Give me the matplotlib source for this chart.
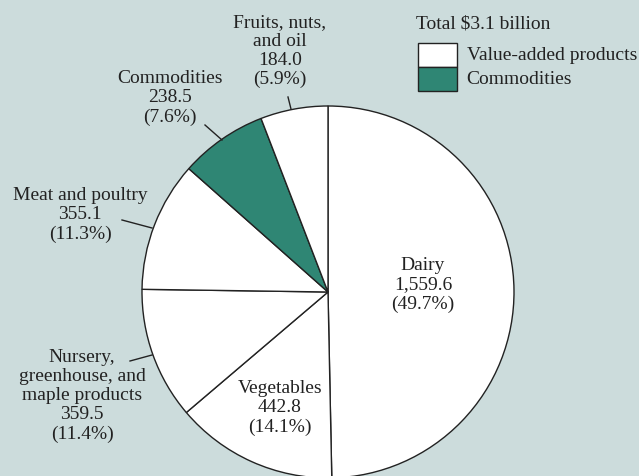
import matplotlib
matplotlib.use('Agg')
import matplotlib.pyplot as plt
from matplotlib.patches import Rectangle

categories = ['Dairy', 'Vegetables', 'Nursery,\ngreenhouse, and\nmaple products',
              'Meat and poultry', 'Commodities', 'Fruits, nuts,\nand oil']
values = [1559.6, 442.8, 359.5, 355.1, 238.5, 184.0]
shares = [49.7, 14.1, 11.4, 11.3, 7.6, 5.9]
is_commodity = [False, False, False, False, True, False]

bg = '#ccdcdc'
teal = '#2f8674'
plt.rcParams['font.family'] = ['Liberation Serif', 'DejaVu Serif']

fig = plt.figure(figsize=(6.39, 4.76), dpi=100, facecolor=bg)
ax = fig.add_axes([0, 0, 1, 1])
ax.set_facecolor(bg)

H = 476
cx, cy, r = 328, H - 292, 186
colors = [teal if c else 'white' for c in is_commodity]
ax.pie(values, colors=colors, startangle=90, counterclock=False,
       center=(cx, cy), radius=r, frame=True,
       wedgeprops=dict(edgecolor='#222222', linewidth=1.0))
ax.set_xlim(0, 639)
ax.set_ylim(0, 476)
ax.set_aspect('equal')
ax.axis('off')

labels = [c + '\n' + format(v, ',.1f') + '\n(' + str(s) + '%)'
          for c, v, s in zip(categories, values, shares)]
# label centres in pixel coords (x, y from top)
pos = [(423, 285), (280, 408), (82, 396), (80, 215), (170, 98), (280, 51)]
for lab, (x, y) in zip(labels, pos):
    ax.text(x, H - y, lab, ha='center', va='center', fontsize=14,
            color='#222222', linespacing=1.15)

# leader lines
leaders = [((130, 361), (152, 355)), ((122, 220), (152, 228)),
           ((205, 125), (222, 140)), ((288, 97), (291, 109))]
for (x0, y0), (x1, y1) in leaders:
    ax.plot([x0, x1], [H - y0, H - y1], color='#222222', lw=1.0)

# legend
ax.text(416, H - 24, 'Total $3.1 billion', ha='left', va='center',
        fontsize=14, color='#222222')
ax.add_patch(Rectangle((418, H - 67), 39, 24, facecolor='white',
                       edgecolor='#222222', lw=1.0))
ax.add_patch(Rectangle((418, H - 91), 39, 24, facecolor=teal,
                       edgecolor='#222222', lw=1.0))
ax.text(467, H - 55, 'Value-added products', ha='left', va='center',
        fontsize=14, color='#222222')
ax.text(466, H - 80, 'Commodities', ha='left', va='center',
        fontsize=14, color='#222222')

plt.savefig('out.png', dpi=100, facecolor=bg)
